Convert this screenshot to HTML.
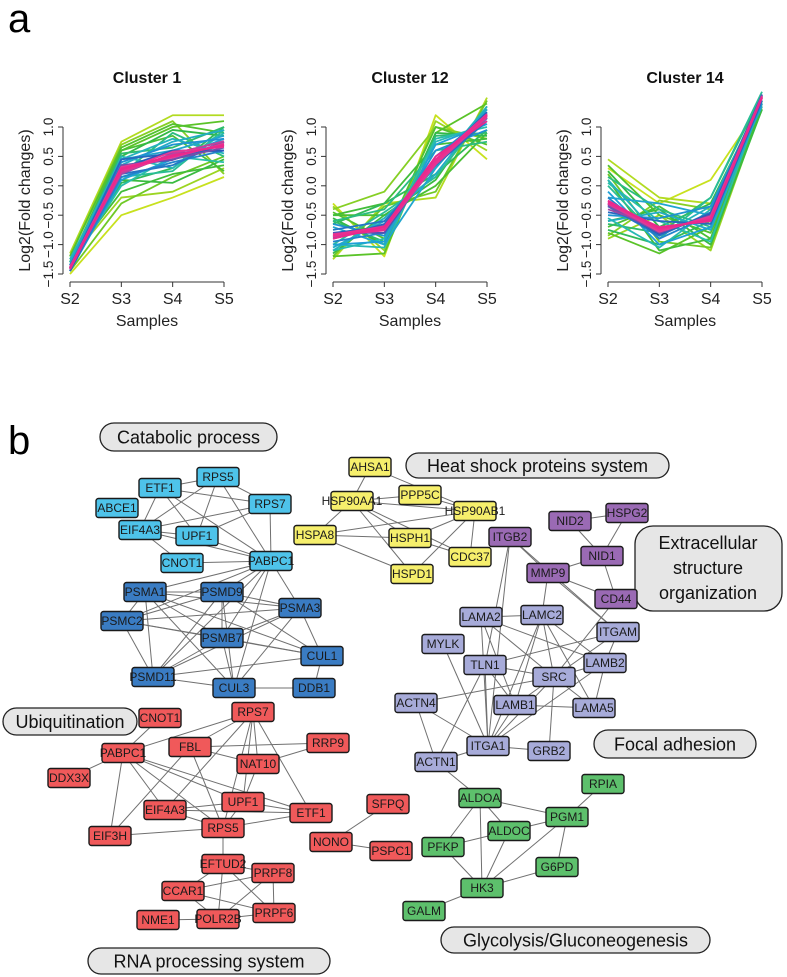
<!DOCTYPE html>
<html><head><meta charset="utf-8">
<style>
html,body{margin:0;padding:0;background:#fff;}
svg{display:block;font-family:"Liberation Sans",sans-serif;}
</style></head>
<body>
<svg id="fig" width="787" height="977" viewBox="0 0 787 977">
<text x="8" y="32" font-size="40">a</text>
<text x="8" y="454" font-size="40">b</text>
<g id="charts"></g>
<g id="edges" stroke="#707070" stroke-width="1"></g>
<g id="labels"></g>
<g id="nodes"></g>
</svg>
<script>
// ---------- Panel a data ----------
const samples = ["S2","S3","S4","S5"];
const yTicks = [-1.5,-1.0,-0.5,0.0,0.5,1.0];
const yTickLabels = ["\u22121.5","\u22121.0","\u22120.5","0.0","0.5","1.0"];
const clusterTitles = ["Cluster 1","Cluster 12","Cluster 14"];
const cluster1 = [
 [-1.15,0.75,1.2,1.2],[-1.2,0.7,1.1,0.2],[-1.5,-0.5,-0.2,0.15],[-1.3,0.6,1.0,1.1],
 [-1.25,-0.2,-0.1,0.3],[-1.4,0.5,0.3,0.9],[-1.35,0.0,0.5,0.4],[-1.45,0.2,0.9,0.5],
 [-1.3,0.55,0.65,1.0],[-1.4,0.1,0.05,0.45],[-1.35,0.4,0.7,0.8],[-1.45,0.3,0.6,0.6],
 [-1.2,0.65,1.05,0.9],[-1.25,-0.1,0.2,0.35],[-1.3,0.6,0.85,0.25],[-1.45,-0.3,0.15,0.5],
 [-1.3,0.5,0.95,0.85],[-1.35,0.05,0.3,1.0],[-1.25,0.45,0.8,0.55],[-1.4,0.15,0.25,0.95],
 [-1.3,0.35,0.75,0.95],[-1.35,0.2,0.35,0.75],[-1.4,0.45,0.55,0.6],[-1.45,0.1,0.45,0.8],
 [-1.4,0.25,0.5,0.7],[-1.42,0.35,0.45,0.65],[-1.38,0.2,0.55,0.75],[-1.4,0.3,0.5,0.7],
 [-1.45,0.15,0.4,0.6],[-1.35,0.45,0.6,0.85],[-1.4,0.28,0.52,0.68],[-1.38,0.32,0.48,0.72],
 [-1.42,0.26,0.58,0.66],[-1.4,0.34,0.44,0.74],[-1.41,0.3,0.5,0.7],[-1.39,0.22,0.54,0.76]
];
const cluster12 = [
 [-0.3,-1.2,1.2,0.45],[-0.4,-0.1,1.0,0.8],[-1.25,-0.3,-0.2,1.5],[-1.2,-1.15,0.9,1.4],
 [-0.5,-0.5,0.0,0.9],[-1.1,-0.9,0.8,1.0],[-0.6,-0.4,0.6,0.75],[-0.7,-1.0,0.3,1.3],
 [-0.35,-1.1,1.1,0.6],[-1.2,-0.35,-0.1,1.45],[-0.45,-0.9,1.0,0.7],[-1.15,-0.5,0.1,1.35],
 [-0.55,-1.0,0.9,0.85],[-1.05,-0.6,0.2,1.3],[-0.5,-0.3,0.7,0.8],[-1.0,-1.05,0.75,1.05],
 [-0.65,-0.85,0.6,0.95],[-1.1,-0.55,0.3,1.35],[-0.6,-0.95,0.85,0.9],[-1.0,-0.45,0.15,1.25],
 [-0.9,-0.7,0.5,1.1],[-0.8,-0.8,0.4,1.2],[-0.75,-0.6,0.35,1.1],[-0.85,-0.75,0.45,1.2],
 [-0.9,-0.65,0.35,1.15],[-0.8,-0.7,0.4,1.25],[-0.95,-0.8,0.5,1.2],[-0.85,-0.72,0.38,1.18],
 [-1.0,-0.95,0.7,1.05],[-0.65,-0.3,0.2,0.95],[-0.88,-0.68,0.42,1.22],[-0.82,-0.74,0.36,1.16],
 [-0.86,-0.7,0.4,1.2],[-0.84,-0.76,0.44,1.22],[-0.87,-0.73,0.39,1.19],[-0.83,-0.69,0.41,1.21]
];
const cluster14 = [
 [0.45,-0.2,-0.3,1.3],[0.3,-0.3,0.1,1.4],[-0.9,-0.5,-1.1,1.35],[-0.8,-1.15,-0.7,1.5],
 [0.1,-1.1,-0.9,1.45],[-0.6,-0.4,-1.0,1.3],[0.0,-0.9,-0.2,1.6],[-0.2,-0.3,-0.5,1.35],
 [0.35,-0.5,-0.8,1.3],[-0.85,-0.25,-0.4,1.35],[0.2,-0.95,-1.05,1.4],[-0.7,-0.35,-0.9,1.4],
 [0.25,-0.7,-0.3,1.45],[-0.75,-1.0,-0.6,1.45],[0.15,-0.4,-0.7,1.4],[-0.65,-0.8,-0.2,1.55],
 [0.05,-0.6,-0.95,1.45],[-0.55,-1.05,-0.4,1.5],[0.1,-0.85,-0.35,1.5],[-0.6,-0.45,-0.75,1.4],
 [-0.4,-0.7,-0.6,1.5],[-0.3,-0.8,-0.5,1.55],[-0.25,-0.75,-0.55,1.5],[-0.35,-0.85,-0.45,1.55],
 [-0.3,-0.7,-0.6,1.5],[-0.2,-0.9,-0.5,1.55],[-0.45,-0.6,-0.65,1.45],[-0.28,-0.78,-0.52,1.52],
 [-0.1,-1.0,-0.7,1.5],[-0.5,-0.55,-0.35,1.4],[-0.32,-0.82,-0.48,1.53],[-0.26,-0.72,-0.58,1.5],
 [-0.3,-0.76,-0.54,1.52],[-0.34,-0.8,-0.5,1.5],[-0.29,-0.74,-0.56,1.51],[-0.31,-0.78,-0.52,1.53]
];
const clusters = [cluster1, cluster12, cluster14];
const chartX0 = [70,333,608];
const chartW = 154;
const NS="http://www.w3.org/2000/svg";
function mk(tag,attrs,parent){const e=document.createElementNS(NS,tag);for(const k in attrs)e.setAttribute(k,attrs[k]);parent.appendChild(e);return e;}
function yScale(v){return 127+(1-v)*58.8;}
function xScale(c,i){return chartX0[c]+i*chartW/3;}
function colorForRank(t){
  const stops=[[235,40,140],[230,60,150],[40,90,185],[30,160,215],[40,190,170],[50,185,70],[90,195,40],[200,225,30]];
  const p=t*(stops.length-1);const i=Math.min(stops.length-2,Math.floor(p));const f=p-i;
  const c=stops[i].map((v,k)=>Math.round(v+(stops[i+1][k]-v)*f));
  return `rgb(${c[0]},${c[1]},${c[2]})`;
}
const charts=document.getElementById('charts');
clusters.forEach((data,c)=>{
  const g=mk('g',{},charts);
  
  
  const mean=[0,1,2,3].map(j=>data.reduce((s,r)=>s+r[j],0)/data.length);
  const dists=data.map(r=>Math.sqrt(r.reduce((s,v,j)=>s+(v-mean[j])**2,0)));
  const order=data.map((r,i)=>i).sort((a,b)=>dists[b]-dists[a]);
  const n=order.length;
  order.forEach((i,rank)=>{
    const pts=data[i].map((v,j)=>xScale(c,j)+','+yScale(v)).join(' ');
    const pl=mk('polyline',{points:pts,fill:'none',stroke:colorForRank(1-rank/(n-1)),'stroke-width':1.8,'stroke-linejoin':'round'},g);
    
    
  });
  const ax=chartX0[c]-7;
  const yax=mk('line',{x1:ax,x2:ax,y1:yScale(1),y2:yScale(-1.5),stroke:'#333','stroke-width':1},g);
  
  
  yTicks.forEach((t,k)=>{
    mk('line',{x1:ax-5,x2:ax,y1:yScale(t),y2:yScale(t),stroke:'#333'},g);
    const tx=mk('text',{x:ax-10,y:yScale(t),'font-size':13.5,fill:'#222','text-anchor':'middle',transform:`rotate(-90 ${ax-10} ${yScale(t)})`},g);
    tx.textContent=yTickLabels[k];
    
    
  });
  const xax=mk('line',{x1:xScale(c,0),x2:xScale(c,3),y1:282,y2:282,stroke:'#333'},g);
  
  
  samples.forEach((s,j)=>{
    mk('line',{x1:xScale(c,j),x2:xScale(c,j),y1:282,y2:287,stroke:'#333'},g);
    const tx=mk('text',{x:xScale(c,j),y:304,'font-size':16,fill:'#222','text-anchor':'middle'},g);
    tx.textContent=s;
    
    
  });
  const xt=mk('text',{x:xScale(c,1.5),y:326,'font-size':16,fill:'#222','text-anchor':'middle'},g);
  xt.textContent='Samples';
  
  
  const yx=ax-33, yy=yScale(-0.25);
  const yt=mk('text',{x:yx,y:yy,'font-size':16,fill:'#222','text-anchor':'middle',transform:`rotate(-90 ${yx} ${yy})`},g);
  yt.textContent='Log2(Fold changes)';
  
  
  const ti=mk('text',{x:xScale(c,1.5),y:83,'font-size':16,'font-weight':'bold',fill:'#111','text-anchor':'middle'},g);
  ti.textContent=clusterTitles[c];
  
  
});

// ---------- Panel b network ----------
const colors={c:'#4ec3ea',d:'#3a7cc3',y:'#f6ef6c',p:'#9a6ab4',l:'#a7abd9',r:'#f0595a',g:'#5dc06c'};
const nodes=[
 ['c','RPS5',218,477],['c','ETF1',160,488],['c','RPS7',270,504],['c','ABCE1',117,508],['c','EIF4A3',140,530],['c','UPF1',197,536],['c','CNOT1',182,563],['c','PABPC1',271,561],
 ['d','PSMA1',145,592],['d','PSMD9',222,592],['d','PSMA3',300,608],['d','PSMC2',122,621],['d','PSMB7',222,638],['d','CUL1',322,656],['d','PSMD11',153,677],['d','CUL3',234,688],['d','DDB1',314,688],
 ['y','AHSA1',370,467],['y','HSP90AA1',352,501],['y','HSPA8',315,535],['y','PPP5C',420,495],['y','HSP90AB1',475,511],['y','HSPH1',410,538],['y','HSPD1',412,574],['y','CDC37',470,557],
 ['p','ITGB2',510,537],['p','NID2',570,521],['p','HSPG2',627,513],['p','NID1',602,556],['p','MMP9',548,573],['p','CD44',616,599],
 ['l','LAMA2',481,617],['l','LAMC2',542,615],['l','ITGAM',618,632],['l','MYLK',443,644],['l','TLN1',485,665],['l','SRC',554,677],['l','LAMB2',605,663],['l','ACTN4',416,703],['l','LAMB1',515,705],['l','LAMA5',594,708],['l','ITGA1',488,746],['l','GRB2',549,751],['l','ACTN1',436,762],
 ['r','CNOT1',160,718],['r','RPS7',253,712],['r','FBL',190,747],['r','RRP9',328,743],['r','PABPC1',123,753],['r','NAT10',258,764],['r','DDX3X',69,778],['r','UPF1',243,802],['r','EIF4A3',165,810],['r','ETF1',311,813],['r','RPS5',223,828],['r','EIF3H',110,836],['r','EFTUD2',223,864],['r','PRPF8',273,873],['r','CCAR1',183,891],['r','PRPF6',274,913],['r','NME1',158,920],['r','POLR2B',218,919],['r','SFPQ',388,804],['r','NONO',331,842],['r','PSPC1',391,851],
 ['g','RPIA',603,784],['g','ALDOA',480,798],['g','PGM1',567,817],['g','ALDOC',509,831],['g','PFKP',443,847],['g','G6PD',557,867],['g','HK3',482,888],['g','GALM',424,911]
];
const edges=[
 'c:ETF1-c:RPS5','c:ETF1-c:RPS7','c:ETF1-c:EIF4A3','c:ETF1-c:UPF1','c:ETF1-c:PABPC1','c:RPS5-c:RPS7','c:RPS5-c:UPF1','c:RPS5-c:PABPC1','c:RPS5-c:EIF4A3','c:RPS7-c:PABPC1','c:RPS7-c:EIF4A3','c:RPS7-c:UPF1','c:EIF4A3-c:UPF1','c:EIF4A3-c:CNOT1','c:EIF4A3-c:PABPC1','c:UPF1-c:PABPC1','c:CNOT1-c:PABPC1',
 'c:PABPC1-d:PSMA1','c:PABPC1-d:PSMD9','c:PABPC1-d:PSMA3','c:PABPC1-d:PSMC2','c:PABPC1-d:PSMB7','c:PABPC1-d:PSMD11','c:PABPC1-d:CUL3',
 'd:PSMA1-d:PSMD9','d:PSMA1-d:PSMA3','d:PSMA1-d:PSMC2','d:PSMA1-d:PSMB7','d:PSMA1-d:PSMD11','d:PSMA1-d:CUL3','d:PSMA1-d:CUL1','d:PSMD9-d:PSMA3','d:PSMD9-d:PSMC2','d:PSMD9-d:PSMB7','d:PSMD9-d:PSMD11','d:PSMD9-d:CUL3','d:PSMD9-d:CUL1','d:PSMA3-d:PSMC2','d:PSMA3-d:PSMB7','d:PSMA3-d:PSMD11','d:PSMA3-d:CUL3','d:PSMA3-d:CUL1','d:PSMC2-d:PSMB7','d:PSMC2-d:PSMD11','d:PSMC2-d:CUL1','d:PSMB7-d:PSMD11','d:PSMB7-d:CUL3','d:PSMB7-d:CUL1','d:PSMD11-d:CUL3','d:CUL3-d:DDB1','d:CUL1-d:DDB1','d:PSMD11-d:CUL1',
 'y:AHSA1-y:HSP90AA1','y:AHSA1-y:HSP90AB1','y:HSP90AA1-y:PPP5C','y:HSP90AA1-y:HSP90AB1','y:HSP90AA1-y:HSPA8','y:HSP90AA1-y:HSPH1','y:HSP90AA1-y:HSPD1','y:HSP90AA1-y:CDC37','y:HSPA8-y:HSPH1','y:HSPA8-y:HSP90AB1','y:HSPA8-y:HSPD1','y:PPP5C-y:HSP90AB1','y:HSP90AB1-y:HSPH1','y:HSP90AB1-y:CDC37','y:HSP90AB1-y:HSPD1','y:HSPH1-y:CDC37',
 'p:ITGB2-p:MMP9','p:NID2-p:HSPG2','p:NID2-p:NID1','p:NID1-p:HSPG2','p:NID1-p:MMP9','p:NID1-p:CD44','p:MMP9-p:CD44','p:ITGB2-l:ITGAM','p:MMP9-l:ITGAM','p:MMP9-l:LAMC2','p:CD44-l:SRC','p:ITGB2-l:TLN1','p:ITGB2-l:ITGA1',
 'l:LAMA2-l:LAMC2','l:LAMA2-l:LAMB1','l:LAMA2-l:LAMB2','l:LAMA2-l:ITGA1','l:LAMA2-l:SRC','l:LAMC2-l:LAMB1','l:LAMC2-l:LAMB2','l:LAMC2-l:LAMA5','l:LAMC2-l:ITGA1','l:LAMC2-l:SRC','l:MYLK-l:ITGA1','l:TLN1-l:SRC','l:TLN1-l:ITGA1','l:TLN1-l:ACTN1','l:TLN1-l:LAMB1','l:TLN1-l:ITGAM','l:SRC-l:ITGAM','l:SRC-l:LAMB2','l:SRC-l:LAMB1','l:SRC-l:LAMA5','l:SRC-l:GRB2','l:SRC-l:ITGA1','l:SRC-l:ACTN4','l:LAMB1-l:LAMA5','l:LAMB1-l:ITGA1','l:LAMB2-l:LAMA5','l:LAMB2-l:ITGA1','l:ACTN4-l:ITGA1','l:ACTN4-l:ACTN1','l:ITGA1-l:GRB2','l:ITGA1-l:ACTN1','l:ITGAM-l:LAMB2','l:ACTN1-g:ALDOA',
 'r:CNOT1-r:PABPC1','r:RPS7-r:PABPC1','r:RPS7-r:FBL','r:RPS7-r:NAT10','r:RPS7-r:UPF1','r:RPS7-r:EIF4A3','r:RPS7-r:ETF1','r:RPS7-r:RPS5','r:FBL-r:RRP9','r:NAT10-r:RRP9','r:FBL-r:NAT10','r:FBL-r:RPS5','r:FBL-r:EIF3H','r:PABPC1-r:ETF1','r:PABPC1-r:UPF1','r:PABPC1-r:RPS5','r:PABPC1-r:EIF4A3','r:PABPC1-r:EIF3H','r:PABPC1-r:DDX3X','r:NAT10-r:UPF1','r:EIF4A3-r:UPF1','r:EIF4A3-r:ETF1','r:EIF4A3-r:RPS5','r:EIF3H-r:RPS5','r:UPF1-r:ETF1','r:UPF1-r:RPS5','r:RPS5-r:ETF1','r:RPS5-r:EFTUD2','r:EFTUD2-r:PRPF8','r:EFTUD2-r:CCAR1','r:EFTUD2-r:POLR2B','r:EFTUD2-r:PRPF6','r:CCAR1-r:PRPF8','r:CCAR1-r:POLR2B','r:CCAR1-r:PRPF6','r:PRPF8-r:PRPF6','r:PRPF8-r:POLR2B','r:POLR2B-r:PRPF6','r:NME1-r:POLR2B','r:SFPQ-r:NONO','r:NONO-r:PSPC1',
 'g:RPIA-g:PGM1','g:ALDOA-g:PGM1','g:ALDOA-g:ALDOC','g:ALDOA-g:PFKP','g:ALDOA-g:HK3','g:ALDOC-g:HK3','g:ALDOC-g:PGM1','g:ALDOC-g:PFKP','g:PFKP-g:HK3','g:PGM1-g:G6PD','g:PGM1-g:HK3','g:G6PD-g:HK3','g:HK3-g:GALM'
];
const groupLabels=[
 ['Catabolic process',100,423,177,28],['Heat shock proteins system',406,453,263,25],['Ubiquitination',3,708,134,27],
 ['Focal adhesion',594,730,162,28],['RNA processing system',88,948,242,26],['Glycolysis/Gluconeogenesis',441,927,269,26]
];
const pos={};
nodes.forEach(n=>pos[n[0]+':'+n[1]]=[n[2],n[3]]);
const eg=document.getElementById('edges');
edges.forEach(e=>{
  const [a,b]=e.split('-');
  if(!pos[a]||!pos[b])return;
  const l=mk('line',{x1:pos[a][0],y1:pos[a][1],x2:pos[b][0],y2:pos[b][1]},eg);
  
  
});
const ng=document.getElementById('nodes');
nodes.forEach(n=>{
  const g=mk('g',{},ng);
  
  
  const w=42, h=19;
  mk('rect',{x:n[2]-w/2,y:n[3]-h/2,width:w,height:h,rx:2.5,fill:colors[n[0]],stroke:'#1a1a1a','stroke-width':1.4},g);
  const t=mk('text',{x:n[2],y:n[3]+4,'font-size':12,'text-anchor':'middle',fill:'#1a1a1a'},g);
  t.textContent=n[1];
});
const lg=document.getElementById('labels');
groupLabels.forEach(L=>{
  const g=mk('g',{},lg);
  
  
  mk('rect',{x:L[1],y:L[2],width:L[3],height:L[4],rx:L[4]/2,fill:'#e6e6e6',stroke:'#222','stroke-width':1.3},g);
  const t=mk('text',{x:L[1]+L[3]/2,y:L[2]+L[4]/2+6.5,'font-size':18,'text-anchor':'middle',fill:'#111'},g);
  t.textContent=L[0];
});
(function(){
  const g=mk('g',{},lg);
  
  
  mk('rect',{x:635,y:526,width:147,height:85,rx:18,fill:'#e6e6e6',stroke:'#222','stroke-width':1.3},g);
  ['Extracellular','structure','organization'].forEach((s,i)=>{
    const t=mk('text',{x:708,y:549+i*25,'font-size':18,'text-anchor':'middle',fill:'#111'},g);
    t.textContent=s;
  });
})();
</script>
</body></html>
